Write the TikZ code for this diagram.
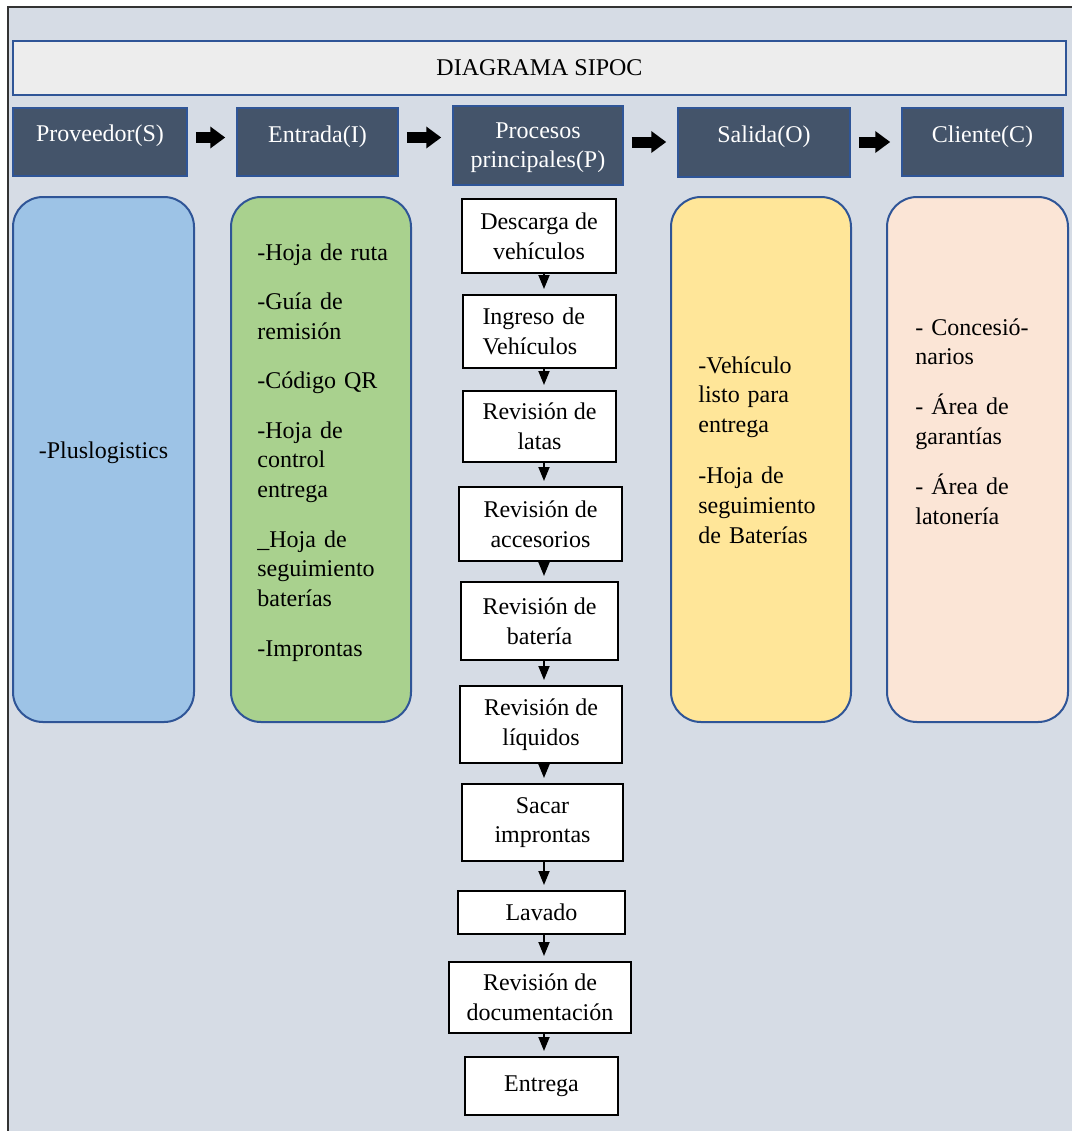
\documentclass[tikz,border=0pt]{standalone}
\usepackage{fontspec}
\setmainfont{Liberation Serif}
\usetikzlibrary{arrows.meta,calc}

\definecolor{framefill}{HTML}{D6DCE5}
\definecolor{titlegray}{HTML}{EDEDED}
\definecolor{sipocblue}{HTML}{2F5597}
\definecolor{hdrslate}{HTML}{44546A}
\definecolor{colS}{HTML}{9DC3E6}
\definecolor{colI}{HTML}{A9D18E}
\definecolor{colO}{HTML}{FFE699}
\definecolor{colC}{HTML}{FBE5D6}

\newcommand\sipocfont{\fontsize{12pt}{14.9pt}\selectfont}

\tikzset{
  titlebox/.style={draw=sipocblue, line width=1pt, fill=titlegray, inner sep=0pt,
    minimum width=526.5pt, minimum height=27pt, font=\sipocfont},
  hdrbox/.style={draw=sipocblue, line width=0.75pt, fill=hdrslate, inner sep=0pt},
  hdrtext/.style={text=white, inner sep=0pt, anchor=base, font=\sipocfont},
  colbox/.style={draw=sipocblue, line width=1pt, rounded corners=15pt, inner sep=0pt,
    minimum width=90.5pt, minimum height=262.5pt},
  coltext/.style={inner sep=0pt, text width=80pt, align=left, anchor=base west, font=\sipocfont},
  stepbox/.style={draw=black, line width=1pt, fill=white, inner sep=0pt, align=center,
    font=\sipocfont},
  flow/.style={line width=0.9pt, -{Triangle[length=7pt,width=5.5pt]}, shorten >=2.5pt},
  blockarrow/.style={line width=5.5pt, -{Triangle[length=7.5pt,width=10.5pt]},
    shorten <=4pt, shorten >=5.5pt},
}

\begin{document}
\begin{tikzpicture}[x=0.5pt, y=-0.5pt]
  \useasboundingbox (0,0) rectangle (1072,1131);

  % background panel with its left and top rule
  \fill[framefill] (8,7) rectangle (1072,1131);
  \draw[black!80, line width=1.2pt] (8,1131) -- (8,7) -- (1072,7);

  % title bar
  \node[titlebox] (title) at (539.5,68) {DIAGRAMA SIPOC};

  % column headers
  \node[hdrbox, minimum width=87pt, minimum height=34pt] (S) at (100,142) {};
  \node[hdrbox, minimum width=80.5pt, minimum height=34pt] (I) at (317.5,142) {};
  \node[hdrbox, minimum width=85pt, minimum height=39.5pt] (P) at (538,145.5) {};
  \node[hdrbox, minimum width=86pt, minimum height=34.5pt] (O) at (764,142.5) {};
  \node[hdrbox, minimum width=80.5pt, minimum height=34pt] (C) at (982.5,142) {};

  \node[hdrtext] (Stxt) at (100,141) {Proveedor(S)};
  \node[hdrtext] (Itxt) at (317.5,142) {Entrada(I)};
  \node[hdrtext, text width=84pt, align=center] (Ptxt) at (538,138) {Procesos\\principales(P)};
  \node[hdrtext] (Otxt) at (764,142) {Salida(O)};
  \node[hdrtext] (Ctxt) at (982.5,142) {Cliente(C)};

  % block arrows between the headers
  \draw[blockarrow] ([yshift=2.25pt]S.east) -- ([yshift=2.25pt]S.east -| I.west);
  \draw[blockarrow] ([yshift=2.25pt]I.east) -- ([yshift=2.25pt]I.east -| P.west);
  \draw[blockarrow] ([yshift=1.75pt]P.east) -- ([yshift=1.75pt]P.east -| O.west);
  \draw[blockarrow] ([yshift=0.25pt]O.east) -- ([yshift=0.25pt]O.east -| C.west);

  % supplier, input, output and customer columns
  \node[colbox, fill=colS] (Scol) at (103.5,459.5) {};
  \node[colbox, fill=colI, minimum width=90pt] (Icol) at (321,459.5) {};
  \node[colbox, fill=colO, minimum width=90pt] (Ocol) at (761,459.5) {};
  \node[colbox, fill=colC] (Ccol) at (977.5,459.5) {};

  \node[inner sep=0pt, anchor=base, font=\sipocfont] (Stext) at (103.5,458) {-Pluslogistics};
  \node[coltext] (Itext) at (257,260) {-Hoja de ruta\\[9.8pt]
    -Guía de\\remisión\\[9.8pt]
    -Código QR\\[9.8pt]
    -Hoja de\\control\\entrega\\[9.8pt]
    \_Hoja de\\seguimiento\\baterías\\[9.8pt]
    -Improntas};
  \node[coltext] (Otext) at (698,373) {-Vehículo\\listo para\\entrega\\[10.5pt]
    -Hoja de\\seguimiento\\de Baterías};
  \node[coltext] (Ctext) at (915,335) {- Concesió-\\narios\\[10pt]
    - Área de\\garantías\\[10pt]
    - Área de\\latonería};

  % main process steps
  \coordinate (ax) at (544,0);
  \node[stepbox, minimum width=77pt, minimum height=37pt] (d1) at (539,236) {Descarga de\\vehículos};
  \node[stepbox, minimum width=76.5pt, minimum height=36.5pt, align=left, text width=57pt] (d2) at (539.5,331.5) {Ingreso de\\Vehículos};
  \node[stepbox, minimum width=76.5pt, minimum height=35.5pt] (d3) at (539.5,426.5) {Revisión de\\latas};
  \node[stepbox, minimum width=81.5pt, minimum height=37pt] (d4) at (540.5,524) {Revisión de\\accesorios};
  \node[stepbox, minimum width=78.5pt, minimum height=39pt] (d5) at (539.5,621) {Revisión de\\batería};
  \node[stepbox, minimum width=81pt, minimum height=38.5pt] (d6) at (541,724.5) {Revisión de\\líquidos};
  \node[stepbox, minimum width=80.5pt, minimum height=38.5pt] (d7) at (542.5,822.5) {Sacar\\improntas};
  \node[stepbox, minimum width=83.5pt, minimum height=21.5pt] (d8) at (541.5,912.5) {Lavado};
  \node[stepbox, minimum width=91pt, minimum height=35.5pt] (d9) at (540,997.5) {Revisión de\\documentación};
  \node[stepbox, minimum width=76.5pt, minimum height=29pt] (d10) at (541.5,1086) {Entrega};

  \foreach \a/\b in {d1/d2, d2/d3, d3/d4, d4/d5, d5/d6, d6/d7, d7/d8, d8/d9, d9/d10}
    \draw[flow] (\a.south -| ax) -- (\b.north -| ax);
\end{tikzpicture}
\end{document}
